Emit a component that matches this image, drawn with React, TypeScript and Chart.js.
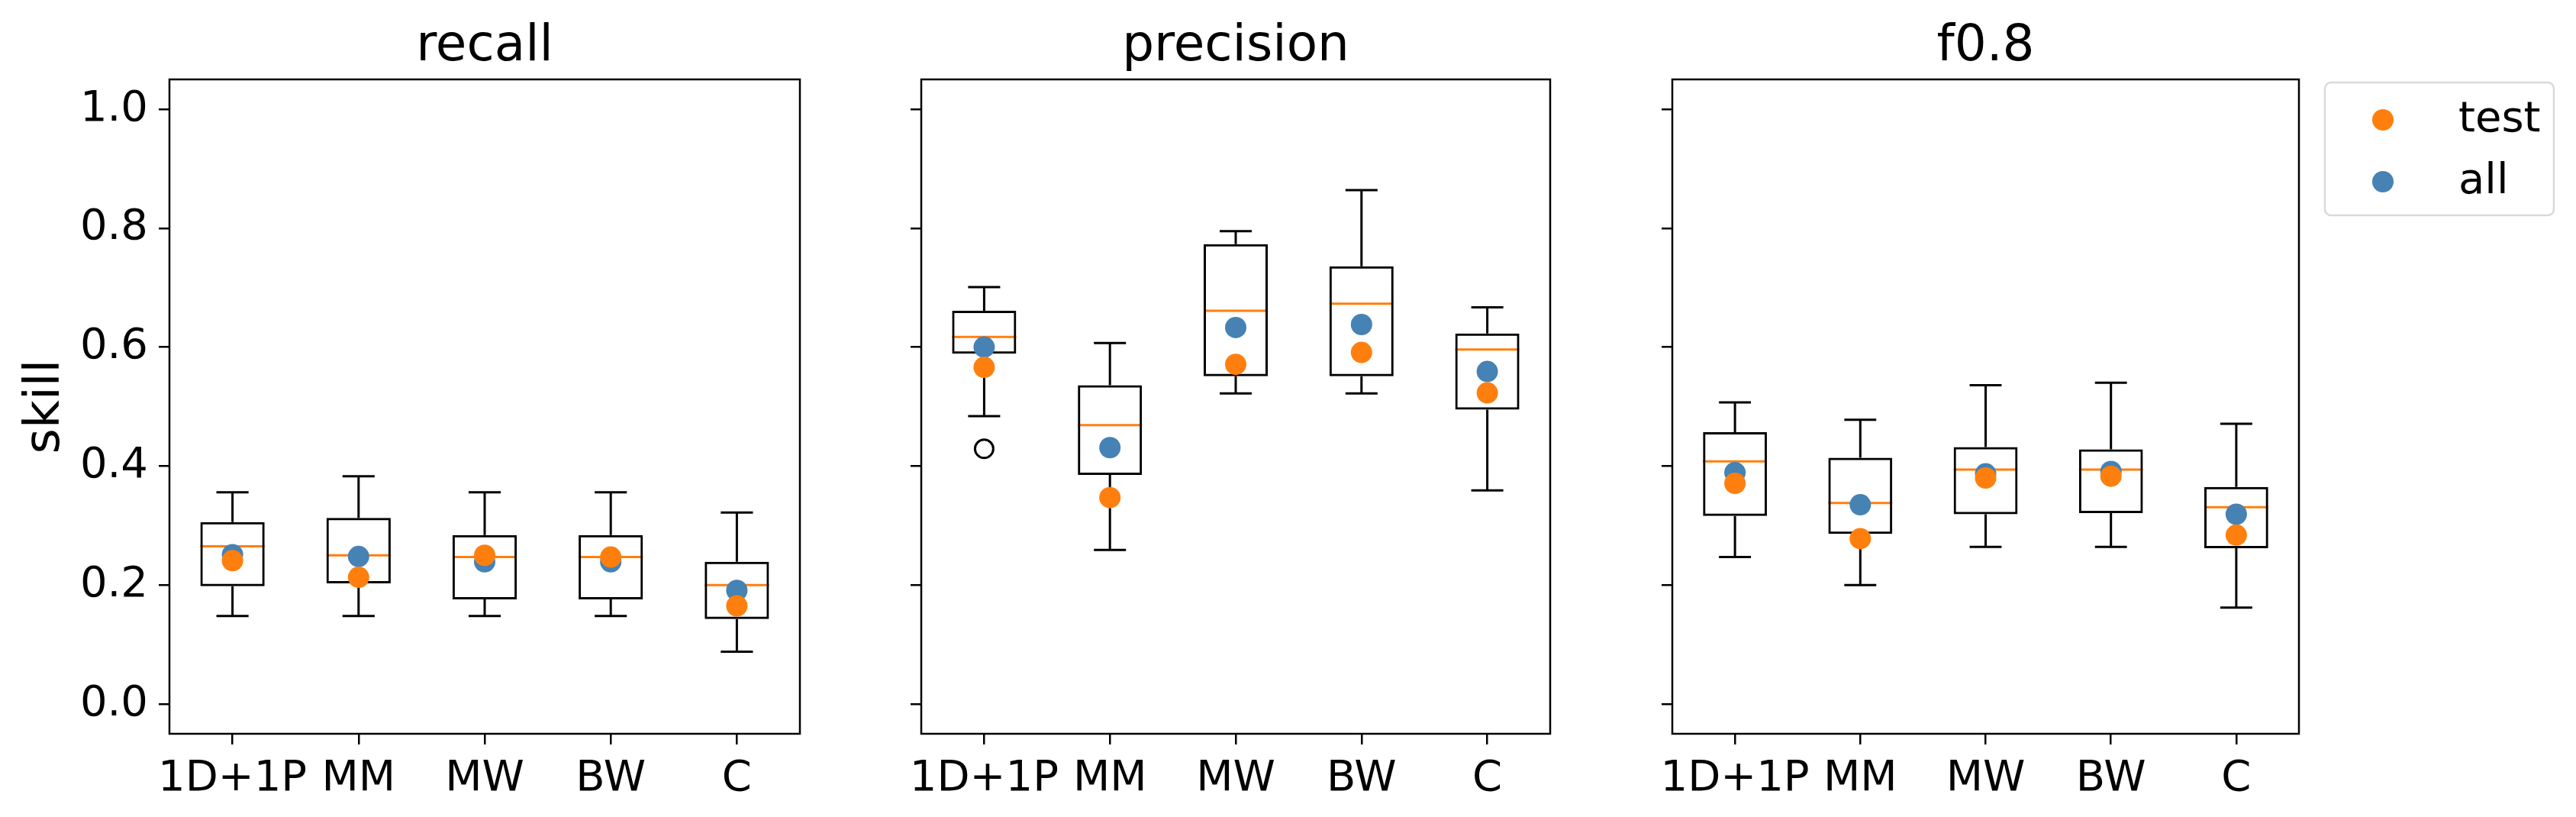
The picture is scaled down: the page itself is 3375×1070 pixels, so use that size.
import React, { useEffect, useRef } from 'react';
import Chart from 'chart.js/auto';

const categories = ['1D+1P', 'MM', 'MW', 'BW', 'C'];
const yTicks = [0, 0.2, 0.4, 0.6, 0.8, 1.0];

// box stats per panel: [low whisker, q1, median, q3, high whisker]
const recallBoxes = [
  [0.148, 0.198, 0.265, 0.306, 0.356],
  [0.148, 0.203, 0.25, 0.313, 0.383],
  [0.148, 0.176, 0.247, 0.284, 0.356],
  [0.148, 0.176, 0.247, 0.284, 0.356],
  [0.088, 0.143, 0.2, 0.239, 0.322],
];
const recallAll = [0.251, 0.248, 0.239, 0.239, 0.191];
const recallTest = [0.241, 0.213, 0.25, 0.247, 0.165];
const recallOutliers = [null, null, null, null, null];

const precisionBoxes = [
  [0.484, 0.589, 0.617, 0.661, 0.701],
  [0.259, 0.385, 0.469, 0.536, 0.607],
  [0.522, 0.551, 0.661, 0.773, 0.795],
  [0.522, 0.551, 0.673, 0.736, 0.864],
  [0.359, 0.495, 0.596, 0.623, 0.667],
];
const precisionAll = [0.6, 0.431, 0.633, 0.638, 0.559];
const precisionTest = [0.566, 0.347, 0.571, 0.591, 0.523];
const precisionOutliers = [0.429, null, null, null, null];

const fBoxes = [
  [0.247, 0.316, 0.408, 0.457, 0.507],
  [0.2, 0.286, 0.338, 0.414, 0.478],
  [0.264, 0.319, 0.394, 0.432, 0.536],
  [0.264, 0.321, 0.394, 0.428, 0.54],
  [0.162, 0.262, 0.331, 0.365, 0.471],
];
const fAll = [0.389, 0.335, 0.387, 0.391, 0.319];
const fTest = [0.371, 0.278, 0.38, 0.383, 0.284];
const fOutliers = [null, null, null, null, null];

const ORANGE = '#ff7f0e';
const BLUE = '#4682b4';
const FONT = 'DejaVu Sans';
const H = 1070;
const TOP = 104;
const BOTTOM = 109;

type PanelProps = {
  title: string;
  boxes: number[][];
  all: number[];
  test: number[];
  outliers: (number | null)[];
  left: number;
  axisWidth: number;
  plotWidth: number;
  canvasWidth: number;
  showLabels: boolean;
  showLegend: boolean;
};

const Panel: React.FC<PanelProps> = (p) => {
  const ref = useRef<HTMLCanvasElement>(null);

  useEffect(() => {
    if (!ref.current) return;
    const boxPlugin = {
      id: 'boxparts',
      beforeDatasetsDraw(chart: any) {
        const { ctx, scales } = chart;
        const x = scales.x, y = scales.y;
        const half = (x.getPixelForValue(1) - x.getPixelForValue(0)) * 0.51 / 2;
        ctx.save();
        p.boxes.forEach((b, i) => {
          const cx = x.getPixelForValue(i);
          ctx.strokeStyle = '#000';
          ctx.lineWidth = 3;
          ctx.beginPath();
          ctx.moveTo(cx, y.getPixelForValue(b[0]));
          ctx.lineTo(cx, y.getPixelForValue(b[1]));
          ctx.moveTo(cx, y.getPixelForValue(b[3]));
          ctx.lineTo(cx, y.getPixelForValue(b[4]));
          ctx.moveTo(cx - half / 2, y.getPixelForValue(b[0]));
          ctx.lineTo(cx + half / 2, y.getPixelForValue(b[0]));
          ctx.moveTo(cx - half / 2, y.getPixelForValue(b[4]));
          ctx.lineTo(cx + half / 2, y.getPixelForValue(b[4]));
          ctx.stroke();
          ctx.strokeStyle = ORANGE;
          ctx.beginPath();
          ctx.moveTo(cx - half, y.getPixelForValue(b[2]));
          ctx.lineTo(cx + half, y.getPixelForValue(b[2]));
          ctx.stroke();
        });
        ctx.restore();
      },
      afterDraw(chart: any) {
        const { ctx, chartArea: a } = chart;
        ctx.save();
        ctx.strokeStyle = '#000';
        ctx.lineWidth = 2.5;
        ctx.strokeRect(a.left, a.top, a.right - a.left, a.bottom - a.top);
        ctx.fillStyle = '#000';
        ctx.font = `66px "${FONT}"`;
        ctx.textAlign = 'center';
        ctx.textBaseline = 'alphabetic';
        ctx.fillText(p.title, (a.left + a.right) / 2, 79);
        if (p.showLegend) {
          const lx = a.right + 34, ly = 108, lw = 300, lh = 174;
          ctx.strokeStyle = '#d9d9d9';
          ctx.lineWidth = 2.5;
          ctx.beginPath();
          ctx.roundRect(lx, ly, lw, lh, 8);
          ctx.stroke();
          ctx.font = `56px "${FONT}"`;
          ctx.textAlign = 'left';
          ctx.textBaseline = 'middle';
          [['test', ORANGE, 157], ['all', BLUE, 238]].forEach(([t, c, yy]) => {
            ctx.fillStyle = c as string;
            ctx.beginPath();
            ctx.arc(lx + 76, yy as number, 14, 0, Math.PI * 2);
            ctx.fill();
            ctx.fillStyle = '#000';
            ctx.fillText(t as string, lx + 175, yy as number);
          });
        }
        ctx.restore();
      },
    };

    const chart = new Chart(ref.current, {
      type: 'bar',
      data: {
        labels: categories,
        datasets: [
          {
            type: 'line',
            label: 'test',
            data: p.test,
            showLine: false,
            pointRadius: 14,
            pointHoverRadius: 14,
            pointBackgroundColor: ORANGE,
            pointBorderWidth: 0,
            order: 1,
          } as any,
          {
            type: 'line',
            label: 'all',
            data: p.all,
            showLine: false,
            pointRadius: 14,
            pointHoverRadius: 14,
            pointBackgroundColor: BLUE,
            pointBorderWidth: 0,
            order: 2,
          },
          {
            type: 'line',
            label: 'outliers',
            data: p.outliers,
            showLine: false,
            pointRadius: 12,
            pointBackgroundColor: 'rgba(0,0,0,0)',
            pointBorderColor: '#000',
            pointBorderWidth: 3,
            order: 3,
          },
          {
            type: 'bar',
            label: 'box',
            data: p.boxes.map((b) => [b[1], b[3]]),
            backgroundColor: 'rgba(0,0,0,0)',
            borderColor: '#000',
            borderWidth: 3,
            borderSkipped: false,
            barPercentage: 0.51,
            categoryPercentage: 1,
            order: 4,
          },
        ],
      },
      options: {
        animation: false,
        responsive: false,
        devicePixelRatio: 1,
        layout: { padding: { top: TOP, bottom: 0, left: 0, right: p.canvasWidth - p.axisWidth - p.plotWidth } },
        plugins: { legend: { display: false }, tooltip: { enabled: false }, title: { display: false } },
        scales: {
          x: {
            offset: true,
            grid: { display: true, drawOnChartArea: false, color: '#000', lineWidth: 2.5, tickLength: 14, offset: false },
            border: { display: false },
            ticks: { color: '#000', font: { family: FONT, size: 56 }, padding: 12, maxRotation: 0, autoSkip: false },
            afterFit: (s: any) => { s.height = BOTTOM; },
          },
          y: {
            min: -0.05,
            max: 1.05,
            afterBuildTicks: (s: any) => { s.ticks = yTicks.map((v) => ({ value: v })); },
            grid: { display: true, drawOnChartArea: false, color: '#000', lineWidth: 2.5, tickLength: 14 },
            border: { display: false },
            ticks: {
              display: p.showLabels,
              color: '#000',
              font: { family: FONT, size: 56 },
              padding: 14,
              callback: (v: any) => Number(v).toFixed(1),
            },
            title: {
              display: p.showLabels,
              text: 'skill',
              color: '#000',
              font: { family: FONT, size: 64 },
              padding: { top: 22, bottom: 0 },
            },
            afterFit: (s: any) => { s.width = p.axisWidth; },
          },
        },
      },
      plugins: [boxPlugin],
    });
    return () => chart.destroy();
  }, [p]);

  return (
    <canvas
      ref={ref}
      width={p.canvasWidth}
      height={H}
      style={{ position: 'absolute', left: p.left, top: 0, width: p.canvasWidth, height: H }}
    />
  );
};

const panels: PanelProps[] = [
  { title: 'recall', boxes: recallBoxes, all: recallAll, test: recallTest, outliers: recallOutliers,
    left: 0, axisWidth: 222, plotWidth: 826, canvasWidth: 1080, showLabels: true, showLegend: false },
  { title: 'precision', boxes: precisionBoxes, all: precisionAll, test: precisionTest, outliers: precisionOutliers,
    left: 1100, axisWidth: 107, plotWidth: 824, canvasWidth: 1040, showLabels: false, showLegend: false },
  { title: 'f0.8', boxes: fBoxes, all: fAll, test: fTest, outliers: fOutliers,
    left: 2150, axisWidth: 41, plotWidth: 821, canvasWidth: 1225, showLabels: false, showLegend: true },
];

export default function App() {
  useEffect(() => {
    document.body.style.margin = '0';
  }, []);
  return (
    <div style={{ position: 'relative', width: 3375, height: H, background: '#fff', overflow: 'hidden' }}>
      {panels.map((p) => <Panel key={p.title} {...p} />)}
    </div>
  );
}
